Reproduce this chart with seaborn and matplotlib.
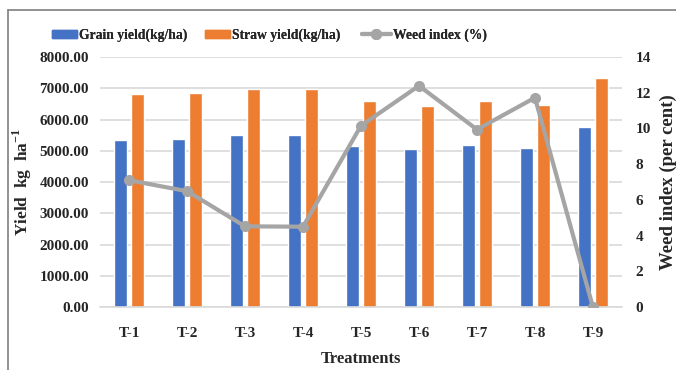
import matplotlib
matplotlib.use("Agg")
import matplotlib.pyplot as plt
import seaborn as sns
import pandas as pd
from matplotlib.lines import Line2D

treatments = ["T-1", "T-2", "T-3", "T-4", "T-5", "T-6", "T-7", "T-8", "T-9"]
grain_yield = [5340, 5375, 5490, 5490, 5150, 5045, 5180, 5085, 5760]
straw_yield = [6805, 6835, 6990, 6990, 6580, 6420, 6580, 6465, 7315]
weed_index = [7.10, 6.49, 4.52, 4.50, 10.15, 12.39, 9.94, 11.72, 0.0]

grain_name = "Grain yield(kg/ha)"
straw_name = "Straw yield(kg/ha)"
weed_name = "Weed index (%)"

sns.set_theme(style="white")
plt.rcParams['font.family'] = ['Liberation Serif', 'DejaVu Serif']
plt.rcParams['mathtext.fontset'] = 'custom'
plt.rcParams['mathtext.rm'] = 'Liberation Serif'
plt.rcParams['mathtext.bf'] = 'Liberation Serif:bold'

df = pd.DataFrame({
    "Treatment": treatments * 2,
    "Yield": grain_yield + straw_yield,
    "Series": [grain_name] * len(treatments) + [straw_name] * len(treatments),
})

fig = plt.figure(figsize=(6.76, 3.70), dpi=100)
ax = fig.add_axes([0.148, 0.170, 0.772, 0.676])

sns.barplot(data=df, x="Treatment", y="Yield", hue="Series",
            palette=["#4472C4", "#ED7D31"], width=0.56, gap=0.2,
            saturation=1, ax=ax, legend=False)

ax.set_ylim(0, 8000)
ax.set_yticks(range(0, 8001, 1000))
ax.set_yticklabels([f"{v:.2f}" for v in range(0, 8001, 1000)])
ax.grid(axis="y", color="#D9D9D9", linewidth=1.2)
ax.set_axisbelow(True)
for s in ["top", "right", "left"]:
    ax.spines[s].set_visible(False)
ax.spines["bottom"].set_color("#D9D9D9")
ax.spines["bottom"].set_linewidth(1.2)
ax.tick_params(axis="y", length=0, labelsize=11, pad=8)
ax.tick_params(axis="x", length=0, labelsize=11, pad=14)
for lab in ax.get_xticklabels() + ax.get_yticklabels():
    lab.set_fontweight("bold")
ax.set_xlabel("Treatments", fontsize=12, fontweight="bold", labelpad=8)
ax.set_ylabel(r"Yield  kg  ha$^{\mathbf{-1}}$", fontsize=12.5, fontweight="bold", labelpad=4)
ax.set_xlim(-0.5, len(treatments) - 0.5)

ax2 = ax.twinx()
sns.lineplot(x=treatments, y=weed_index, ax=ax2, color="#A5A5A5",
             linewidth=3, marker="o", markersize=8, markeredgewidth=0,
             sort=False)
ax2.set_ylim(0, 14)
ax2.set_yticks(range(0, 15, 2))
for s in ["top", "right", "left", "bottom"]:
    ax2.spines[s].set_visible(False)
ax2.tick_params(axis="y", length=0, labelsize=11, pad=10)
for lab in ax2.get_yticklabels():
    lab.set_fontweight("bold")
ax2.set_ylabel("Weed index (per cent)", fontsize=13.5, fontweight="bold", labelpad=6)
ax2.set_xlim(-0.5, len(treatments) - 0.5)

handles = [
    plt.Rectangle((0, 0), 1, 1, color="#4472C4"),
    plt.Rectangle((0, 0), 1, 1, color="#ED7D31"),
    Line2D([0], [0], color="#A5A5A5", linewidth=3, marker="o", markersize=8, markeredgewidth=0),
]
labels = [grain_name, straw_name, weed_name]
xs = [52, 205, 362]
hl = [1.8, 1.8, 2.1]
for h, l, x, L in zip(handles, labels, xs, hl):
    leg = fig.legend([h], [l], loc="center left",
                     bbox_to_anchor=(x / 676, 1 - 35 / 370), frameon=False,
                     prop={"family": "Liberation Serif", "weight": "bold", "size": 9.8},
                     handlelength=L, handleheight=0.55, handletextpad=0.2,
                     borderpad=0, borderaxespad=0)
    fig.add_artist(leg)

fig.add_artist(Line2D([8 / 676, 8 / 676], [0, 1 - 10 / 370], color="#7F7F7F", linewidth=1.2))
fig.add_artist(Line2D([8 / 676, 1], [1 - 10 / 370, 1 - 10 / 370], color="#7F7F7F", linewidth=1.2))

fig.savefig("out.png", dpi=100)
